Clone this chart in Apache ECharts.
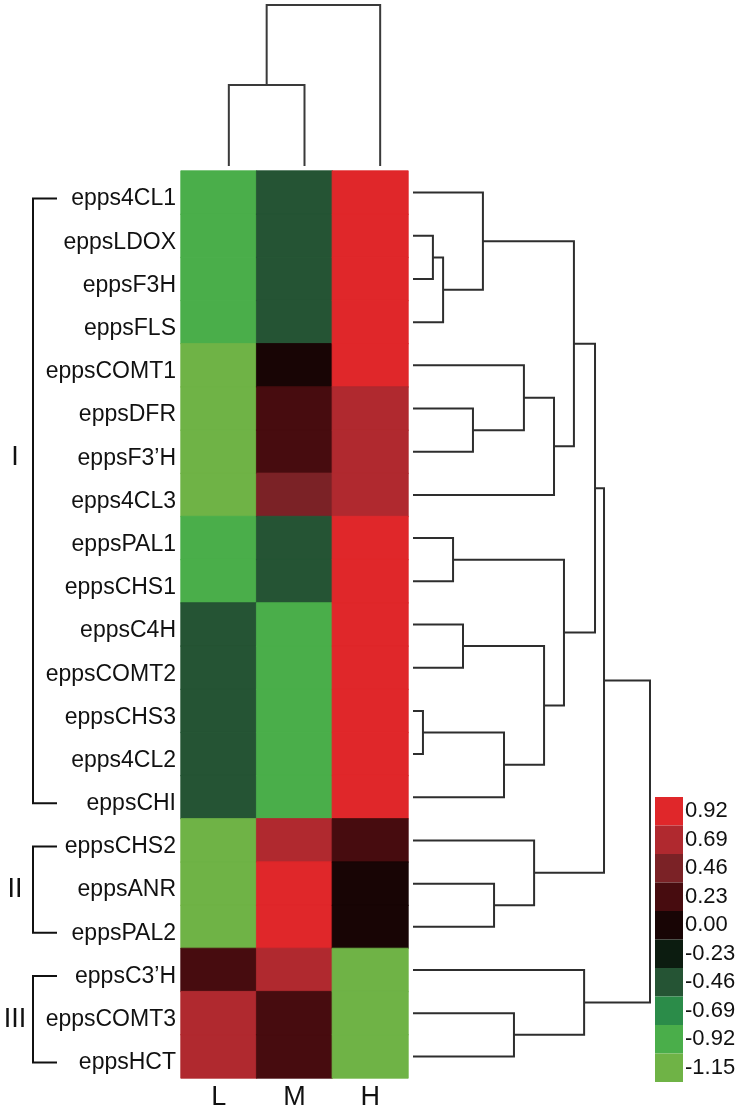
<!DOCTYPE html>
<html>
<head>
<meta charset="utf-8">
<script src="https://cdn.jsdelivr.net/npm/echarts@6/dist/echarts.min.js"></script>
<style>
  html, body { margin: 0; padding: 0; background: #fff; }
  #chart { width: 742px; height: 1111px; }
</style>
</head>
<body>
<div id="chart"></div>
<script>
// 行（基因）与列（样品）
const genes = ['epps4CL1', 'eppsLDOX', 'eppsF3H', 'eppsFLS', 'eppsCOMT1', 'eppsDFR', 'eppsF3\u2019H', 'epps4CL3',
  'eppsPAL1', 'eppsCHS1', 'eppsC4H', 'eppsCOMT2', 'eppsCHS3', 'epps4CL2', 'eppsCHI',
  'eppsCHS2', 'eppsANR', 'eppsPAL2', 'eppsC3\u2019H', 'eppsCOMT3', 'eppsHCT']
const samples = ['L', 'M', 'H']

// 每列的表达量 (z-score)
const valL = [-0.80, -0.80, -0.80, -0.80, -1.02, -1.02, -1.02, -1.05, -0.80, -0.80,
  -0.35, -0.35, -0.35, -0.35, -0.35, -1.05, -1.08, -1.08, 0.30, 0.75, 0.75]
const valM = [-0.35, -0.35, -0.35, -0.35, 0.05, 0.30, 0.30, 0.50, -0.35, -0.35,
  -0.75, -0.75, -0.75, -0.75, -0.75, 0.75, 1.00, 1.00, 0.75, 0.30, 0.30]
const valH = [1.10, 1.10, 1.10, 1.10, 0.97, 0.75, 0.75, 0.75, 1.10, 1.10,
  1.10, 1.10, 1.10, 1.10, 1.10, 0.30, 0.08, 0.08, -1.05, -1.05, -1.05]

// 图例刻度与颜色
const legendLabels = [0.92, 0.69, 0.46, 0.23, 0.00, -0.23, -0.46, -0.69, -0.92, -1.15]
const legendColors = ['#e0272a', '#b0292f', '#7b2226', '#470c0f', '#180505',
  '#0c1c10', '#255434', '#2b8c49', '#4aae4a', '#6fb346']

// 行聚类：[子节点A, 子节点B, 高度]，叶子 0-20，内部节点从 21 开始
const rowMerges = [
  [1, 2, 0.84], [21, 3, 1.27], [0, 22, 2.95], [5, 6, 2.53], [4, 24, 4.68],
  [25, 7, 5.95], [23, 26, 6.79], [8, 9, 1.69], [10, 11, 2.11], [12, 13, 0.42],
  [30, 14, 3.84], [29, 31, 5.53], [28, 32, 6.37], [27, 33, 7.68], [16, 17, 3.42],
  [15, 35, 5.11], [34, 36, 8.06], [19, 20, 4.26], [18, 38, 7.22], [37, 39, 10.0]
]
// 列聚类
const colMerges = [[0, 1, 5.03], [3, 2, 10.0]]

// 分组：名称、起始行、结束行、标签所在行
const groupNames = ['I', 'II', 'III']
const groupStart = [0, 15, 18]
const groupEnd = [14, 17, 20]
const groupLabelRow = [6, 16, 19]

const FONT = 'Liberation Sans, Arial, sans-serif'

// 生成树状图折线
const buildDendro = (merges, nLeaf, horizontal) => {
  const pos = []
  const hgt = []
  for (let i = 0; i < nLeaf; i++) { pos.push(i); hgt.push(0) }
  const lines = []
  merges.forEach(([a, b, h]) => {
    const pts = [[hgt[a], pos[a]], [h, pos[a]], [h, pos[b]], [hgt[b], pos[b]]]
    lines.push({ coords: horizontal ? pts : pts.map(p => [p[1], p[0]]) })
    pos.push((pos[a] + pos[b]) / 2)
    hgt.push(h)
  })
  return lines
}

// 按图例区间取颜色（用于单元格描边，避免格子间出现细缝）
const colorOf = v => {
  for (let i = 0; i < legendLabels.length; i++) {
    if (v >= legendLabels[i]) return legendColors[i]
  }
  return legendColors[legendColors.length - 1]
}

const heatData = []
;[valL, valM, valH].forEach((arr, c) => {
  arr.forEach((v, r) => heatData.push({
    value: [c, r, v],
    itemStyle: { borderColor: colorOf(v), borderWidth: 0.8 }
  }))
})

const pieces = legendLabels.map((v, i) => {
  const p = { gte: v, label: v.toFixed(2), color: legendColors[i] }
  if (i > 0) p.lt = legendLabels[i - 1]
  if (i === legendLabels.length - 1) delete p.gte
  return p
})

const chart = echarts.init(document.getElementById('chart'))

const hidden = { show: false }
const option = {
  animation: false,
  grid: [
    { left: 181, top: 171, width: 227, height: 907 },   // 热图
    { left: 413, top: 171, width: 237, height: 907 },   // 行树
    { left: 191, top: 5, width: 227, height: 161 },     // 列树
    { left: 0, top: 171, width: 181, height: 907 }      // 分组括号
  ],
  xAxis: [
    {
      gridIndex: 0, type: 'category', data: samples,
      axisLine: hidden, axisTick: hidden, splitLine: hidden,
      axisLabel: { fontSize: 27, color: '#111', fontFamily: FONT, margin: 6 }
    },
    { gridIndex: 1, type: 'value', min: 0, max: 10, show: false },
    { gridIndex: 2, type: 'value', min: -0.5, max: 2.5, show: false },
    { gridIndex: 3, type: 'value', min: 0, max: 181, show: false }
  ],
  yAxis: [
    {
      gridIndex: 0, type: 'category', data: genes, inverse: true,
      axisLine: hidden, axisTick: hidden, splitLine: hidden,
      axisLabel: {
        margin: 5,
        formatter: '{a|{value}}',
        rich: { a: { fontSize: 23, color: '#111', fontFamily: FONT, padding: [13, 0, 0, 0] } }
      }
    },
    { gridIndex: 1, type: 'value', min: -0.5, max: 20.5, inverse: true, show: false },
    { gridIndex: 2, type: 'value', min: 0, max: 10, show: false },
    { gridIndex: 3, type: 'value', min: -0.5, max: 20.5, inverse: true, show: false }
  ],
  visualMap: {
    type: 'piecewise',
    seriesIndex: 0,
    pieces: pieces,
    orient: 'vertical',
    align: 'left',
    left: 655,
    top: 797,
    padding: 0,
    itemWidth: 28,
    itemHeight: 28.5,
    itemGap: 0,
    itemSymbol: 'rect',
    textGap: 2,
    selectedMode: false,
    hoverLink: false,
    textStyle: { fontSize: 22, color: '#111', fontFamily: FONT }
  },
  series: [
    {
      type: 'heatmap',
      xAxisIndex: 0, yAxisIndex: 0,
      data: heatData,
      emphasis: { disabled: true }
    },
    {
      type: 'lines',
      coordinateSystem: 'cartesian2d',
      xAxisIndex: 1, yAxisIndex: 1,
      polyline: true,
      silent: true,
      lineStyle: { color: '#2e2e2e', width: 2, opacity: 1 },
      data: buildDendro(rowMerges, genes.length, true)
    },
    {
      type: 'lines',
      coordinateSystem: 'cartesian2d',
      xAxisIndex: 2, yAxisIndex: 2,
      polyline: true,
      silent: true,
      lineStyle: { color: '#3a3a3a', width: 2, opacity: 1 },
      data: buildDendro(colMerges, samples.length, false)
    },
    {
      type: 'custom',
      coordinateSystem: 'cartesian2d',
      xAxisIndex: 3, yAxisIndex: 3,
      silent: true,
      clip: false,
      data: groupNames.map((n, i) => [groupStart[i], groupEnd[i], groupLabelRow[i]]),
      renderItem: (params, api) => {
        const top = api.coord([33, api.value(0)])
        const bot = api.coord([33, api.value(1)])
        const lab = api.coord([15, api.value(2)])
        const dy = 6
        return {
          type: 'group',
          children: [
            {
              type: 'polyline',
              shape: { points: [[top[0] + 24, top[1] + dy], [top[0], top[1] + dy], [bot[0], bot[1] + dy], [bot[0] + 24, bot[1] + dy]] },
              style: { stroke: '#111', lineWidth: 2, fill: null }
            },
            {
              type: 'text',
              x: lab[0], y: lab[1] + dy,
              style: {
                text: groupNames[params.dataIndex], fontSize: 27, fontFamily: FONT,
                fill: '#111', align: 'center', verticalAlign: 'middle'
              }
            }
          ]
        }
      }
    }
  ]
}

chart.setOption(option)
window.addEventListener('resize', () => chart.resize())
</script>
</body>
</html>
